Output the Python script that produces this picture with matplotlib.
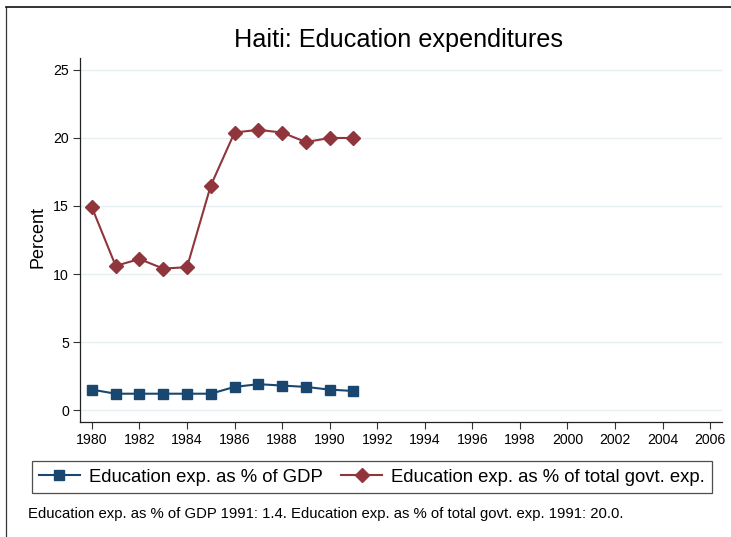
import matplotlib
matplotlib.use("Agg")
import matplotlib.pyplot as plt
from matplotlib.lines import Line2D

plt.rcParams["font.family"] = ["Liberation Sans", "DejaVu Sans"]

years = [1980, 1981, 1982, 1983, 1984, 1985, 1986, 1987, 1988, 1989, 1990, 1991]
gdp_share = [1.5, 1.2, 1.2, 1.2, 1.2, 1.2, 1.7, 1.9, 1.8, 1.7, 1.5, 1.4]
govt_share = [14.9, 10.6, 11.1, 10.4, 10.5, 16.5, 20.4, 20.6, 20.4, 19.7, 20.0, 20.0]
x_ticks = list(range(1980, 2007, 2))
y_ticks = [0, 5, 10, 15, 20, 25]

NAVY = "#1a476f"
MAROON = "#90353b"

W, H = 731, 537
fig = plt.figure(figsize=(W / 100, H / 100), dpi=100)

# axes box in pixel terms: left 80, right 722, top 58, bottom 422
ax = fig.add_axes([80 / W, 1 - 422 / H, (722 - 80) / W, (422 - 58) / H])

ax.plot(years, gdp_share, color=NAVY, marker="s", markersize=7, lw=1.5,
        label="Education exp. as % of GDP")
ax.plot(years, govt_share, color=MAROON, marker="D", markersize=7.5, lw=1.5,
        label="Education exp. as % of total govt. exp.")

ax.set_xlim(1979.5, 2006.5)
ax.set_ylim(-0.88, 25.88)
ax.set_xticks(x_ticks)
ax.set_yticks(y_ticks)
ax.tick_params(labelsize=10.2, length=5, width=0.8, color="#333333", pad=3)
ax.grid(axis="y", color="#e8eff2", lw=1)
ax.set_axisbelow(True)
for s in ("top", "right"):
    ax.spines[s].set_visible(False)
for s in ("left", "bottom"):
    ax.spines[s].set_linewidth(0.9)
    ax.spines[s].set_color("#222222")
ax.set_ylabel("Percent", fontsize=13)
ax.yaxis.set_label_coords((46 - 80) / 642, (422 - 237) / 364)

fig.text(398 / W, 1 - 40 / H, "Haiti: Education expenditures", ha="center",
         va="center", fontsize=18.2)

handles = [
    Line2D([], [], color=NAVY, marker="s", markersize=7, lw=1.5),
    Line2D([], [], color=MAROON, marker="D", markersize=7.5, lw=1.5),
]
leg = fig.legend(handles, ["Education exp. as % of GDP",
                           "Education exp. as % of total govt. exp."],
                 loc="center", bbox_to_anchor=(372 / W, 1 - 477 / H), ncol=2,
                 fontsize=13.3, frameon=True, fancybox=False, handlelength=2.2,
                 columnspacing=1.0, handletextpad=0.5, borderpad=0.4)
leg.get_frame().set_edgecolor("#222222")
leg.get_frame().set_linewidth(0.9)

fig.text(28 / W, 1 - 514 / H,
         "Education exp. as % of GDP 1991: 1.4. Education exp. as % of total govt. exp. 1991: 20.0.",
         ha="left", va="center", fontsize=10.7)

# outer frame (top and left edges visible)
fig.add_artist(Line2D([6 / W, 6 / W], [0, 1 - 7 / H], color="#333333", lw=0.9,
                      transform=fig.transFigure))
fig.add_artist(Line2D([6 / W, 1], [1 - 7 / H, 1 - 7 / H], color="#111111", lw=1.2,
                      transform=fig.transFigure))

fig.savefig("out.png", dpi=100)
